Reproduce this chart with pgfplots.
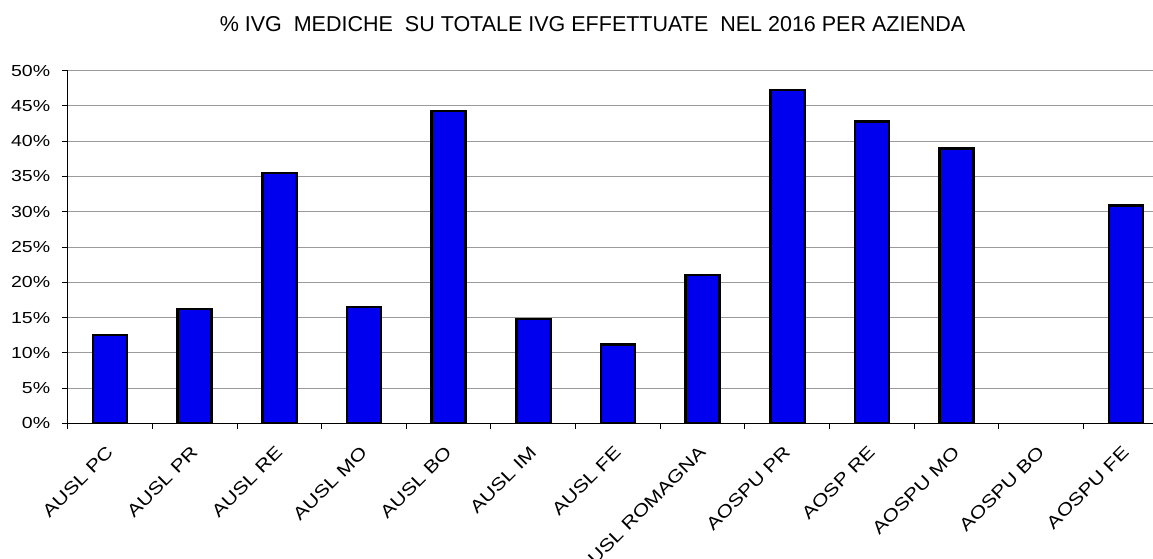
\documentclass[border=0pt]{standalone}
\usepackage{fontspec}
\setmainfont{Liberation Sans}
\newfontfamily\tickfam[FakeStretch=1.22]{Liberation Sans}
\newcommand\tickfont{\tickfam\fontsize{16pt}{19pt}\selectfont}
\newcommand\xlabfont{\tickfam\fontsize{17.5pt}{20pt}\selectfont}
\newcommand\titlefont{\fontsize{21.5pt}{25pt}\selectfont}
\usepackage{pgfplots}
\pgfplotsset{compat=1.18}
\definecolor{barblue}{RGB}{0,0,238}
\definecolor{gridgray}{RGB}{155,155,155}
\begin{document}
\begin{tikzpicture}
\begin{axis}[
  scale only axis, width=1100.5pt, height=352.6pt,
  xmin=-0.5, xmax=12.5, ymin=0, ymax=50,
  axis lines*=left,
  axis line style={black, line width=1.2pt},
  tick align=outside, major tick length=6pt,
  tick style={black, line width=1pt},
  xtick={-0.5,0.5,...,12.5}, xticklabels={},
  extra x ticks={0,1,2,3,4,5,6,7,8,9,10,11,12},
  extra x tick labels={AUSL PC,AUSL PR,AUSL RE,AUSL MO,AUSL BO,AUSL IM,AUSL FE,AUSL ROMAGNA,AOSPU PR,AOSP RE,AOSPU MO,AOSPU BO,AOSPU FE},
  extra x tick style={major tick length=0pt, tick style={draw=none},
    tick label style={font=\xlabfont, yshift=-26pt, rotate=45, anchor=east, inner sep=0pt}},
  ytick={0,5,...,50},
  yticklabels={0\%,5\%,10\%,15\%,20\%,25\%,30\%,35\%,40\%,45\%,50\%},
  yticklabel style={font=\tickfont, xshift=-8pt},
  ymajorgrids, grid style={gridgray, line width=1pt},
  every axis title/.style={at={(0.4769,1)}, anchor=base, yshift=39.7pt, font=\titlefont},
  title={\% IVG\ \ MEDICHE\ \ SU TOTALE IVG EFFETTUATE\ \ NEL 2016 PER AZIENDA},
]
% AOSPU BO (x=11) has 0% and draws no bar
\addplot[ybar, bar width=34pt, fill=barblue, draw=black, line width=2.5pt] coordinates {
(0,12.5) (1,16.2) (2,35.5) (3,16.5) (4,44.3) (5,14.8) (6,11.2) (7,21.0) (8,47.3) (9,42.8) (10,39.0) (12,30.9)
};
\end{axis}
\pgfresetboundingbox
\path[use as bounding box] (-67.7pt,-134.7pt) rectangle (1085.3pt,423.3pt);
\end{tikzpicture}
\end{document}
